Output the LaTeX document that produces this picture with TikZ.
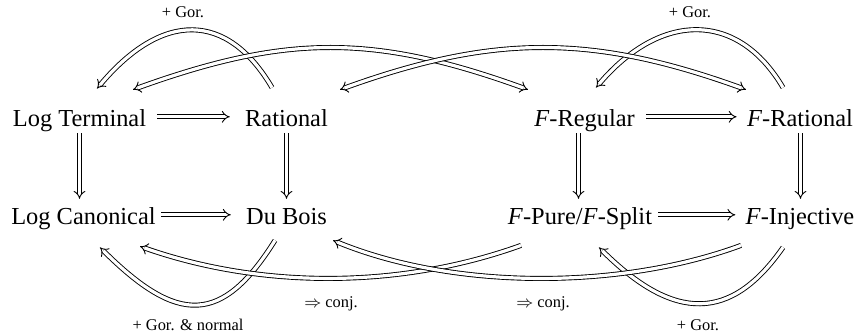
\documentclass[tikz,border=0pt]{standalone}
\usepackage{fontspec}
\setmainfont{Liberation Serif}
\usetikzlibrary{arrows.meta}
\begin{document}
\begin{tikzpicture}[x=0.5pt,y=-0.5pt,
  obj/.style={anchor=base, inner sep=0pt, font=\fontsize{12.2}{14}\selectfont, text height=12.2pt, text depth=2pt},
  lbl/.style={anchor=base, inner sep=0pt, font=\fontsize{8.2}{10}\selectfont},
  dbl/.style={double, double distance=1.6pt, line width=0.45pt, -{Implies}},
  dblboth/.style={double, double distance=1.6pt, line width=0.45pt, {Implies}-{Implies}},
]
\useasboundingbox (0,0) rectangle (862,335);
% nodes
\node[obj] (LT) at (79.5,127) {Log Terminal};
\node[obj] (R) at (286.5,127) {Rational};
\node[obj] (FReg) at (584.5,127) {\textit{F}-Regular};
\node[obj] (FRat) at (800,127) {\textit{F}-Rational};
\node[obj] (LC) at (83.5,225) {Log Canonical};
\node[obj] (DB) at (286.5,225) {Du Bois};
\node[obj] (FP) at (580,225) {\textit{F}-Pure/\textit{F}-Split};
\node[obj] (FI) at (800,225) {\textit{F}-Injective};
% horizontal
\draw[dbl, shorten <=5.5pt, shorten >=7.5pt] (LT.east) -- (R.west);
\draw[dbl, shorten <=5.5pt, shorten >=5pt] (FReg.east) -- (FRat.west);
\draw[dbl, shorten <=2.5pt, shorten >=7.5pt] (LC.east) -- (DB.west);
\draw[dbl, shorten <=3pt, shorten >=5pt] (FP.east) -- (FI.west);
% vertical
\draw[dbl, shorten <=1pt, shorten >=0.7pt] (LT.south) -- (LT.south |- LC.north);
\draw[dbl, shorten <=1pt, shorten >=0.7pt] (R.south) -- (R.south |- DB.north);
\draw[dbl, shorten <=1pt, shorten >=0.7pt] ([xshift=-0.75pt]FReg.south -| FP.north) -- ([xshift=-0.75pt]FP.north);
\draw[dbl, shorten <=1pt, shorten >=0.7pt] ([xshift=0.25pt]FRat.south) -- ([xshift=0.25pt]FRat.south |- FI.north);
% top curves
\draw[dbl] ([shift={(-14.5,-14.6)}]R.north) .. controls (227,11) and (162,11) .. ([shift={(17.5,-13.6)}]LT.north);
\draw[dbl] ([shift={(-17,-14.6)}]FRat.north) .. controls (738,11) and (661,11) .. ([shift={(11.5,-14.6)}]FReg.north);
\draw[dblboth] ([shift={(53.5,-12.6)}]LT.north) .. controls (287,34) and (374,34) .. ([shift={(-56.5,-12.6)}]FReg.north);
\draw[dblboth] ([shift={(53.5,-12.6)}]R.north) .. controls (494,34) and (592,34) .. ([shift={(-54,-12.6)}]FRat.north);
% bottom curves
\draw[dbl] ([shift={(-11.5,11)}]DB.south) .. controls (222,325) and (178,325) .. ([shift={(16.5,18)}]LC.south);
\draw[dbl] ([shift={(-17,18)}]FI.south) .. controls (731,322) and (674,322) .. ([shift={(19,18)}]FP.south);
\draw[dbl] ([shift={(-59,16)}]FP.south) .. controls (400,289) and (261,289) .. ([shift={(56.5,17)}]LC.south);
\draw[dbl] ([shift={(-59,16)}]FI.south) .. controls (620,290) and (454,290) .. ([shift={(46.5,11)}]DB.south);
% labels
\node[lbl] (g1) at (183,18) {+ Gor.};
\node[lbl] (g2) at (690,18) {+ Gor.};
\node[lbl] (g3) at (188,331) {+ Gor. \& normal};
\node[lbl] (g4) at (698,331) {+ Gor.};
\node[lbl] (c1) at (331,308) {$\Rightarrow$ conj.};
\node[lbl] (c2) at (543,308) {$\Rightarrow$ conj.};
\end{tikzpicture}
\end{document}
